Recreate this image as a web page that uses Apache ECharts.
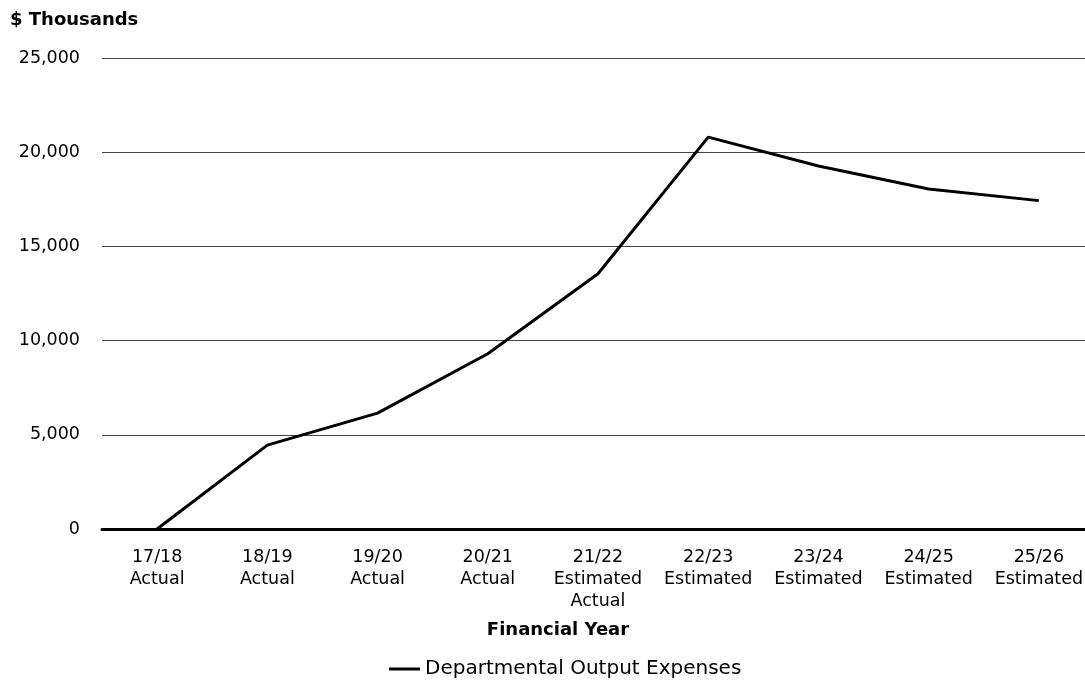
<!DOCTYPE html>
<html>
<head>
<meta charset="utf-8">
<script src="https://cdn.jsdelivr.net/npm/echarts@6/dist/echarts.min.js"></script>
<style>
html,body{margin:0;padding:0;background:#fff;overflow:hidden;width:1085px;height:680px;}
#chart{width:1094px;height:680px;}
</style>
</head>
<body>
<div id="chart"></div>
<script>
const categories = ['17/18\nActual','18/19\nActual','19/20\nActual','20/21\nActual','21/22\nEstimated\nActual','22/23\nEstimated','23/24\nEstimated','24/25\nEstimated','25/26\nEstimated'];
const seriesName = 'Departmental Output Expenses';
const values = [0, 4450, 6150, 9300, 13550, 20800, 19270, 18050, 17430];
const yTicks = { min: 0, max: 25000, interval: 5000 };

const chart = echarts.init(document.getElementById('chart'));
const font = '"DejaVu Sans", Verdana, sans-serif';
chart.setOption({
  animation: false,
  textStyle: { fontFamily: font },
  graphic: [{
    type: 'text', left: 10, top: 11,
    style: { text: '$ Thousands', font: 'bold 18px ' + font, fill: '#000' }
  }],
  grid: { left: 102, top: 58, right: 0, bottom: 151, containLabel: false },
  legend: {
    top: 654, left: 384,
    itemWidth: 31, itemHeight: 3, itemGap: 10,
    icon: 'rect',
    textStyle: { fontSize: 20, color: '#000', fontFamily: font },
    data: [seriesName]
  },
  xAxis: {
    type: 'category',
    data: categories,
    boundaryGap: true,
    name: 'Financial Year',
    nameLocation: 'middle',
    nameGap: 92,
    nameTextStyle: { fontSize: 18, fontWeight: 'bold', color: '#000', fontFamily: font, padding: [0, 80, 0, 0] },
    axisLine: { lineStyle: { color: '#000', width: 3 } },
    axisTick: { show: false },
    axisLabel: { interval: 0, fontSize: 17.5, lineHeight: 22, color: '#000', margin: 17, fontFamily: font }
  },
  yAxis: {
    type: 'value',
    min: yTicks.min, max: yTicks.max, interval: yTicks.interval,
    axisLine: { show: false },
    axisTick: { show: false },
    splitLine: { lineStyle: { color: '#444', width: 1 } },
    axisLabel: {
      fontSize: 17.5, color: '#000', margin: 22, fontFamily: font,
      formatter: v => v.toLocaleString('en-US')
    }
  },
  series: [{
    name: seriesName,
    type: 'line',
    data: values,
    symbol: 'none',
    lineStyle: { color: '#000', width: 3 },
    itemStyle: { color: '#000' }
  }]
});
</script>
</body>
</html>
